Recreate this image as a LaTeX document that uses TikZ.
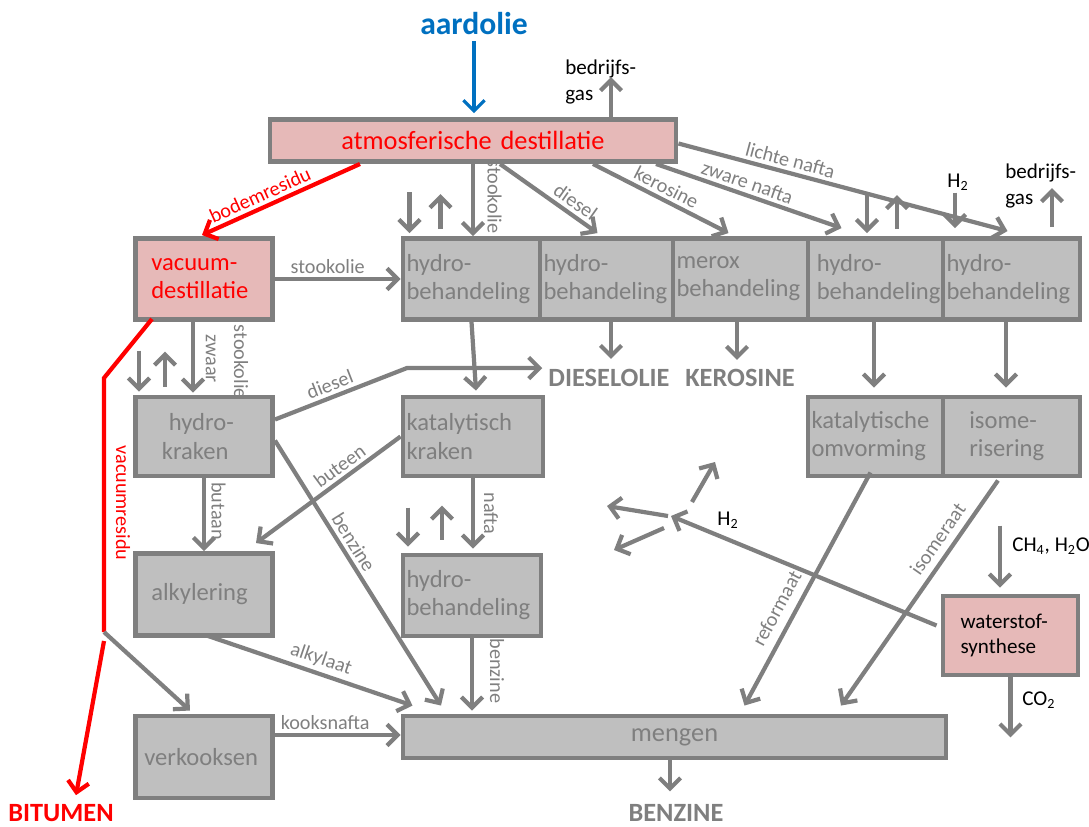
\documentclass[tikz,border=0pt]{standalone}
\usepackage{fontspec}
\setmainfont{Carlito}
\usetikzlibrary{arrows.meta}

\definecolor{linegrey}{HTML}{7F7F7F}
\definecolor{boxgrey}{HTML}{BFBFBF}
\definecolor{boxpink}{HTML}{E6B9B8}
\definecolor{oilblue}{HTML}{0070C0}
\definecolor{resred}{HTML}{FF0000}

\begin{document}
\begin{tikzpicture}[x=0.02cm, y=-0.02cm,
	box/.style 2 args={draw=linegrey, line width=2.8pt, fill=boxgrey, text=linegrey,
		minimum width=#1*0.02cm, minimum height=#2*0.02cm, text width=#1*0.02cm-4pt,
		inner xsep=2pt, inner ysep=2pt, align=left, font=\fontsize{14}{16}\selectfont,
		execute at begin node={\hyphenpenalty=10000}},
	redbox/.style={fill=boxpink, text=resred},
	flow/.style={draw=linegrey, line width=2.4pt, -{Straight Barb[length=6pt, width=12pt]}},
	feed/.style={draw=oilblue, line width=1.8pt, -{Straight Barb[length=6pt, width=12pt]}},
	resid/.style={draw=resred, line width=2.4pt, -{Straight Barb[length=6pt, width=12pt]}},
	lbl/.style={text=linegrey, inner sep=2pt, font=\fontsize{11.5}{13}\selectfont},
	note/.style={text=black, inner sep=0pt, align=left, font=\fontsize{12}{14.5}\selectfont},
	product/.style={text=linegrey, font=\fontsize{15}{18}\selectfont\bfseries}]

	\useasboundingbox (0,0) rectangle (1089,826);

	\node[box={406}{42}, redbox, align=center, font=\fontsize{15}{18}\selectfont] (atm) at (473,140.5) {atmosferische destillatie};
	\node[box={137}{81}, redbox] (vac) at (204,279) {\hspace*{7pt}vacuum-\\\hspace*{7pt}destillatie};

	\node[box={137}{81}] (hb1) at (471.5,279) {hydro-\\behandeling};
	\node[box={133}{81}] (hb2) at (606.5,279) {hydro-\\behandeling};
	\node[box={135}{81}] (mer) at (740.5,279) {merox\\behandeling};
	\node[box={135}{81}] (hb4) at (875.5,279) {\hspace*{3pt}hydro-\\\hspace*{3pt}behandeling};
	\node[box={137}{81}] (hb5) at (1011.5,279) {hydro-\\behandeling};

	\node[box={137}{79}] (hk) at (204,436.5) {\hspace*{17pt}hydro-\\\hspace*{13pt}kraken};
	\node[box={140}{79}] (kk) at (473,436.5) {katalytisch\\kraken};
	\node[box={135}{79}] (ko) at (875.5,436.5) {katalytische\\omvorming};
	\node[box={137}{79}] (iso) at (1011.5,436.5) {\hspace*{13pt}isome-\\\hspace*{13pt}risering};

	\node[box={137}{82}] (alk) at (204,594.5) {\hspace*{7pt}alkylering};
	\node[box={138}{81}] (hb6) at (472,595.5) {hydro-\\behandeling};
	\node[box={135}{79}, redbox, text=black, font=\fontsize{12}{14.5}\selectfont] (ws) at (1010.5,635.5) {\hspace*{8pt}waterstof-\\\hspace*{8pt}synthese};
	\node[box={137}{82}] (vk) at (204,757) {\hspace*{3pt}verkooksen};
	\node[box={543}{42}, align=center, font=\fontsize{15}{18}\selectfont] (meng) at (674.5,737) {mengen};

	\node[text=oilblue, font=\fontsize{18}{20}\selectfont\bfseries] (oil) at (474,24) {aardolie};
	\node[product, text=resred] (bit) at (61,813) {BITUMEN};
	\node[product] (dsl) at (609,378) {DIESELOLIE};
	\node[product] (ker) at (740,378) {KEROSINE};
	\node[product] (bnz) at (676,813) {BENZINE};
	\node[note, anchor=west] (gas1) at (565,82) {bedrijfs-\\gas};
	\node[note, anchor=west] (gas2) at (1005,186) {bedrijfs-\\gas};
	\node[note] (h2a) at (958,182) {H\textsubscript{2}};
	\node[note] (h2b) at (728,520) {H\textsubscript{2}};
	\node[note, anchor=west] (ch4) at (1012,546) {CH\textsubscript{4}, H\textsubscript{2}O};
	\node[note, anchor=west] (co2) at (1022,700) {CO\textsubscript{2}};

	\coordinate (bend) at (104,378);
	\coordinate (split) at (104,632);
	\coordinate (dknee) at (407,368);
	\coordinate (hub) at (671,516);

	\draw[feed] (oil.south) -- ([shift={(0,-4)}]oil.south |- atm.north);
	\draw[flow] ([shift={(138,0)}]atm.north) -- ++(0,-40);

	\draw[resid] ([shift={(-113,0)}]atm.south) -- node[lbl, text=resred, sloped, above, pos=.6] {bodemresidu} ([shift={(-2,-1)}]vac.north);
	\draw[flow] (atm.south) -- node[lbl, rotate=-90, anchor=south, pos=.45, inner sep=7pt] {stookolie} (atm.south |- hb1.north);
	\draw[flow] ([shift={(27,0)}]atm.south) -- node[lbl, sloped, above, pos=.7] {diesel} ([shift={(-9,-3)}]hb2.north);
	\draw[flow] ([shift={(120,0)}]atm.south) -- node[lbl, sloped, above, pos=.5] {kerosine} ([shift={(-12,-3)}]mer.north);
	\draw[flow] ([shift={(183,0)}]atm.south) -- node[lbl, sloped, above, pos=.47] {zware nafta} ([shift={(-34,-8)}]hb4.north);
	\draw[flow] ([shift={(0,3)}]atm.east) -- node[lbl, sloped, above, pos=.33] {lichte nafta} ([shift={(-4,-5)}]hb5.north);

	\draw[flow] ([shift={(-62,-44)}]hb1.north) -- ([shift={(-62,-3)}]hb1.north);
	\draw[flow] ([shift={(-31,-7)}]hb1.north) -- ([shift={(-31,-42)}]hb1.north);
	\draw[flow] ([shift={(-8.5,-42)}]hb4.north) -- ([shift={(-8.5,-3)}]hb4.north);
	\draw[flow] ([shift={(21.5,-7)}]hb4.north) -- ([shift={(21.5,-41)}]hb4.north);
	\draw[flow] ([shift={(-3,2)}]h2a.south) -- ([shift={(-56.5,-8)}]hb5.north);
	\draw[flow] ([shift={(40.5,-9)}]hb5.north) -- ++(0,-39);

	\draw[flow] (vac.east) -- node[lbl, above, pos=.42] {stookolie} (hb1.west);
	\draw[flow] ([shift={(-11,0)}]vac.south) -- node[lbl, rotate=-90, anchor=south west, pos=0, inner sep=6pt] {zwaar} ([shift={(-11,-2)}]vac.south |- hk.north);
	\node[lbl, rotate=-90, anchor=west] (vhk) at (241,321) {stookolie};
	\draw[flow] ([shift={(-65,-44)}]hk.north) -- ([shift={(-65,-3)}]hk.north);
	\draw[flow] ([shift={(-39,-8)}]hk.north) -- ([shift={(-39,-43)}]hk.north);

	\draw[resid, -] ([shift={(-52,-3)}]vac.south) -- (bend) -- (split);
	\draw[resid] ([shift={(0,9)}]split) -- ([shift={(15,-3)}]bit.north);
	\node[lbl, rotate=-90, text=resred] (vres) at (123,503) {vacuumresidu};
	\draw[flow] (split) -- ([shift={(-14,-3)}]vk.north);

	\draw[flow] (hb1.south) -- ([shift={(3,-4)}]kk.north);
	\draw[flow] ([shift={(4.5,0)}]hb2.south) -- ++(0,37);
	\draw[flow] ([shift={(-3.5,0)}]mer.south) -- ++(0,38);
	\draw[flow] ([shift={(-1.5,0)}]hb4.south) -- ([shift={(-1.5,-7)}]ko.north);
	\draw[flow] ([shift={(-5.5,0)}]hb5.south) -- ([shift={(-5.5,-7)}]iso.north);

	\draw[flow] ([shift={(0,-17)}]hk.east) -- node[lbl, sloped, above, pos=.45] {diesel} (dknee) -- ([shift={(0,-10)}]dsl.west);
	\draw[flow] ([shift={(0,4)}]hk.east) -- node[lbl, sloped, above, pos=.41] {benzine} ([shift={(-233.5,-8)}]meng.north);
	\draw[flow] (hk.south) -- node[lbl, rotate=-90, anchor=south, pos=.45, inner sep=3pt] {butaan} (alk.north);
	\draw[flow] (kk.west) -- node[lbl, sloped, above, pos=.37] {buteen} ([shift={(52,-8)}]alk.north);
	\draw[flow] (kk.south) -- node[lbl, rotate=-90, anchor=south, pos=.5, inner sep=5pt] {nafta} ([shift={(1,-4)}]hb6.north);
	\draw[flow] ([shift={(-64,-45)}]hb6.north) -- ([shift={(-64,-6)}]hb6.north);
	\draw[flow] ([shift={(-30,-13)}]hb6.north) -- ([shift={(-30,-47)}]hb6.north);

	\draw[flow] ([shift={(4,-2)}]alk.south) -- node[lbl, sloped, above, pos=.53] {alkylaat} ([shift={(-262,-8)}]meng.north);
	\draw[flow] (hb6.south) -- node[lbl, rotate=-90, anchor=south, pos=.45, inner sep=9pt] {benzine} ([shift={(0,-3)}]hb6.south |- meng.north);
	\draw[flow] ([shift={(0,-22)}]vk.east) -- node[lbl, above, pos=.4] {kooksnafta} ([shift={(0,-22)}]vk.east -| meng.west);

	\draw[flow] ([shift={(-5,-6)}]ko.south) -- node[lbl, sloped, above=3pt, pos=.62] {reformaat} ([shift={(70,-8)}]meng.north);
	\draw[flow] ([shift={(-13.5,2)}]iso.south) -- node[lbl, sloped, above=2pt, pos=.3] {isomeraat} ([shift={(166.5,-8)}]meng.north);

	\draw[flow] ([shift={(-4,-10)}]ws.west) -- (hub);
	\draw[flow] ([shift={(-3,0)}]hub) -- ++(-61,-10);
	\draw[flow] ([shift={(-7,12)}]hub) -- ++(-50,22);
	\draw[flow] ([shift={(21,-14)}]hub) -- ++(23,-40);
	\draw[flow] ([shift={(-10.5,-68)}]ws.north) -- ([shift={(-10.5,-6)}]ws.north);
	\draw[flow] (ws.south) -- ++(0,60);
	\draw[flow] ([shift={(-4.5,0)}]meng.south) -- ++(0,31);
\end{tikzpicture}
\end{document}
